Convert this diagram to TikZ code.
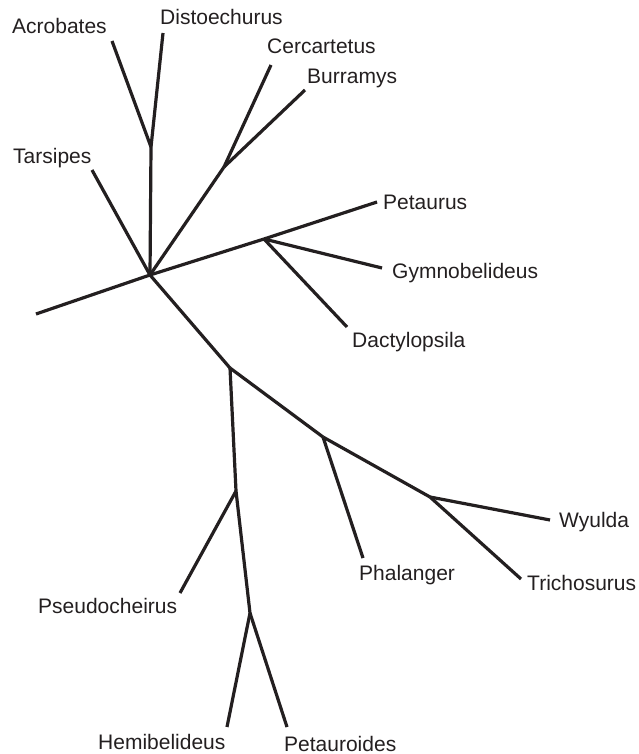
\documentclass[tikz,border=0pt]{standalone}
\usepackage{fontspec}
\setmainfont{Liberation Sans}
\begin{document}
\begin{tikzpicture}[x=1pt,y=-1pt,
  branch/.style={line width=3.2pt,draw={rgb,255:red,35;green,31;blue,32},line cap=butt,line join=miter},
  taxon/.style={anchor=base west,inner sep=0pt,font=\fontsize{21}{24}\selectfont,text={rgb,255:red,35;green,31;blue,32}}]
\useasboundingbox (0,0) rectangle (639,754);
% internal junctions
\coordinate (hub) at (150,275);
\coordinate (jAD) at (151,147);
\coordinate (jCB) at (224,167);
\coordinate (jP) at (264,239);
\coordinate (j1) at (230,368);
\coordinate (j2) at (323,437);
\coordinate (j3) at (430,497);
\coordinate (j4) at (236,491);
\coordinate (j5) at (250,613);
% branch ends
\coordinate (eLeft) at (36,314);
\coordinate (eAcro) at (112,41);
\coordinate (eDist) at (163,33);
\coordinate (eTars) at (92,170);
\coordinate (eCerc) at (271,65);
\coordinate (eBurr) at (305,90);
\coordinate (ePeta) at (377,202);
\coordinate (eGymn) at (382,268);
\coordinate (eDact) at (347,327);
\coordinate (ePhal) at (363,558);
\coordinate (eWyul) at (550,520);
\coordinate (eTric) at (521,579);
\coordinate (ePseu) at (180,593);
\coordinate (eHemi) at (227,727);
\coordinate (ePtro) at (287,727);
% branches
\draw[branch] (eLeft) -- (hub);
\draw[branch] (hub) -- (jAD);
\draw[branch] (jAD) -- (eAcro);
\draw[branch] (jAD) -- (eDist);
\draw[branch] (hub) -- (eTars);
\draw[branch] (hub) -- (jCB);
\draw[branch] (jCB) -- (eCerc);
\draw[branch] (jCB) -- (eBurr);
\draw[branch] (hub) -- (jP);
\draw[branch] (jP) -- (ePeta);
\draw[branch] (jP) -- (eGymn);
\draw[branch] (jP) -- (eDact);
\draw[branch] (hub) -- (j1);
\draw[branch] (j1) -- (j2);
\draw[branch] (j2) -- (ePhal);
\draw[branch] (j2) -- (j3);
\draw[branch] (j3) -- (eWyul);
\draw[branch] (j3) -- (eTric);
\draw[branch] (j1) -- (j4);
\draw[branch] (j4) -- (ePseu);
\draw[branch] (j4) -- (j5);
\draw[branch] (j5) -- (eHemi);
\draw[branch] (j5) -- (ePtro);
% labels
\node[taxon] (lAcro) at (12,34) {Acrobates};
\node[taxon] (lDist) at (160,25) {Distoechurus};
\node[taxon] (lCerc) at (267,54) {Cercartetus};
\node[taxon] (lBurr) at (307,84) {Burramys};
\node[taxon] (lTars) at (13,164) {Tarsipes};
\node[taxon] (lPeta) at (383,209) {Petaurus};
\node[taxon] (lGymn) at (392,278) {Gymnobelideus};
\node[taxon] (lDact) at (352,347) {Dactylopsila};
\node[taxon] (lWyul) at (559,527) {Wyulda};
\node[taxon] (lPhal) at (359,580) {Phalanger};
\node[taxon] (lTric) at (527,590) {Trichosurus};
\node[taxon] (lPseu) at (38,613) {Pseudocheirus};
\node[taxon] (lHemi) at (98,749) {Hemibelideus};
\node[taxon] (lPtro) at (284,751) {Petauroides};
\end{tikzpicture}
\end{document}
